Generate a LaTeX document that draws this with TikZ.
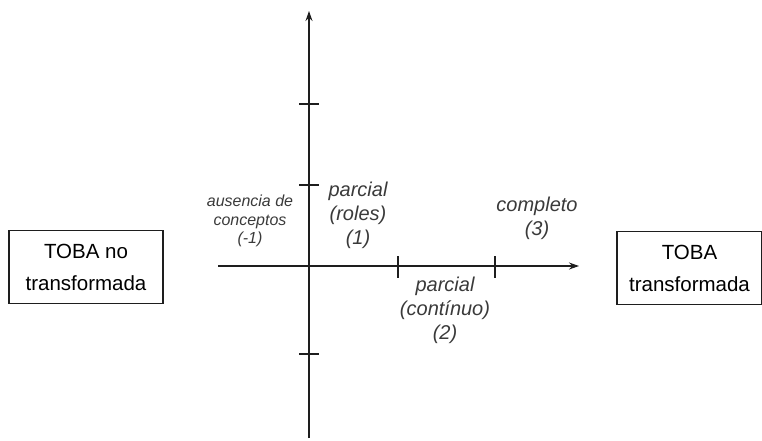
\documentclass[tikz,border=0pt]{standalone}
\usepackage{fontspec}
\setmainfont{Liberation Sans}
\definecolor{axisGray}{HTML}{1E1E1E}
\definecolor{labelGray}{HTML}{3A3A3A}
\usetikzlibrary{arrows.meta,positioning}

\begin{document}
\begin{tikzpicture}[
  x=1pt,y=-1pt,
  >={Stealth[length=10pt,width=7pt]},
  axisline/.style={draw=axisGray,line width=1.2pt},
  tickmark/.style={draw=axisGray,line width=1.2pt},
  endbox/.style={draw=axisGray,line width=1.2pt,align=center,
                 text=black,font=\fontsize{20.5}{32}\selectfont,
                 minimum width=154pt,minimum height=73pt,inner sep=0pt},
  levellabel/.style={align=center,text=labelGray,
                     font=\fontsize{20}{24}\selectfont\itshape},
  smalllabel/.style={align=center,text=labelGray,
                     font=\fontsize{16}{18.5}\selectfont\itshape},
]
  \useasboundingbox (0,0) rectangle (762,440);

  % axes
  \coordinate (ybot) at (309,438);
  \coordinate (ytop) at (309,11);
  \coordinate (xleft) at (218,266);
  \coordinate (xright) at (579,266);
  \draw[axisline,->] (ybot) -- (ytop);
  \draw[axisline,->] (xleft) -- (xright);

  % ticks
  \foreach \ty in {104,185,354}
    \draw[tickmark] (299,\ty) -- (319,\ty);
  \foreach \tx in {398,495}
    \draw[tickmark] (\tx,256) -- (\tx,278);

  % end boxes
  \node[endbox] (notrans) at (86,267) {TOBA no\\transformada};
  \node[endbox,minimum width=145pt] (trans) at (689.5,268) {TOBA\\transformada};

  % levels
  \node[smalllabel] (absent) at (250,221) {ausencia de\\conceptos\\(-1)};
  \node[levellabel] (roles)  at (358,215) {parcial\\(roles)\\(1)};
  \node[levellabel] (cont)   at (445,310) {parcial\\(contínuo)\\(2)};
  \node[levellabel] (full)   at (537,218) {completo\\(3)};
\end{tikzpicture}
\end{document}
